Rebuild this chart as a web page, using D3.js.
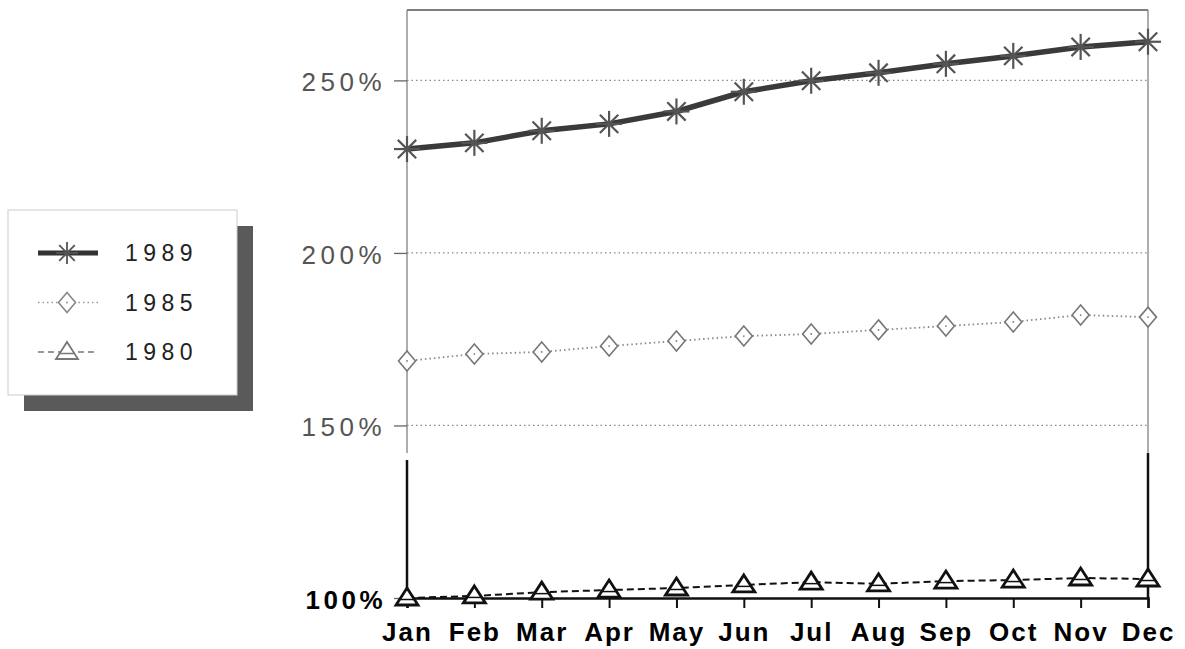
<!DOCTYPE html>
<html>
<head>
<meta charset="utf-8">
<script src="https://cdn.jsdelivr.net/npm/d3@7"></script>
<style>
  body { margin: 0; background: #fff; overflow: hidden; }
  svg { display: block; }
</style>
</head>
<body>
<div id="chart"></div>
<script>
// data
const months = ["Jan", "Feb", "Mar", "Apr", "May", "Jun", "Jul", "Aug", "Sep", "Oct", "Nov", "Dec"];
const s1989 = [230.1, 231.9, 235.4, 237.4, 241.0, 246.7, 249.9, 252.2, 254.8, 257.1, 259.7, 261.2];
const s1985 = [168.7, 170.7, 171.3, 173.0, 174.5, 175.9, 176.5, 177.7, 178.8, 180.0, 182.0, 181.4];
const s1980 = [100.0, 100.6, 101.7, 102.3, 102.9, 103.8, 104.6, 104.1, 104.9, 105.2, 105.8, 105.5];
const yTicks = [100, 150, 200, 250];
const seriesNames = ["1989", "1985", "1980"];

const width = 1185, height = 649;
const margin = { top: 10, right: 37, bottom: 51, left: 407 };
const innerWidth = width - margin.left - margin.right;
const innerHeight = height - margin.top - margin.bottom;
const font = 'Liberation Sans, Arial, Helvetica, sans-serif';

const svg = d3.select('#chart').append('svg')
  .attr('width', width)
  .attr('height', height);

const x = d3.scalePoint()
  .domain(months)
  .range([0, innerWidth]);

const y = d3.scaleLinear()
  .domain([100, 270.4])
  .range([innerHeight, 0]);

const g = svg.append('g')
  .attr('transform', `translate(${margin.left}, ${margin.top})`);

// frame: thin gray top / upper sides
g.append('line').attr('x1', 0).attr('x2', innerWidth).attr('y1', 0).attr('y2', 0)
  .attr('stroke', '#555').attr('stroke-width', 1.5);
g.append('line').attr('x1', 0).attr('x2', 0).attr('y1', 0).attr('y2', y(142))
  .attr('stroke', '#777').attr('stroke-width', 1.2);
g.append('line').attr('x1', innerWidth).attr('x2', innerWidth).attr('y1', 0).attr('y2', y(142))
  .attr('stroke', '#777').attr('stroke-width', 1.2);
// heavy lower sides
g.append('line').attr('x1', 0).attr('x2', 0).attr('y1', y(140)).attr('y2', innerHeight)
  .attr('stroke', '#111').attr('stroke-width', 2.5);
g.append('line').attr('x1', innerWidth).attr('x2', innerWidth).attr('y1', y(142)).attr('y2', innerHeight)
  .attr('stroke', '#111').attr('stroke-width', 2.5);

// grid lines
g.selectAll('.grid').data(yTicks.filter(d => d > 100))
  .enter().append('line')
  .attr('class', 'grid')
  .attr('x1', 0).attr('x2', innerWidth)
  .attr('y1', d => y(d)).attr('y2', d => y(d))
  .attr('stroke', '#888')
  .attr('stroke-width', 1.3)
  .attr('stroke-dasharray', '1.5,3');

// y axis
const yAxis = d3.axisLeft(y).tickValues(yTicks).tickFormat(d => d + '%').tickSize(13).tickPadding(8);
const yG = g.append('g').call(yAxis);
yG.select('.domain').remove();
yG.selectAll('.tick line').attr('stroke', '#666').attr('stroke-width', 1.3);
yG.selectAll('.tick text')
  .attr('font-family', font)
  .attr('font-size', 26)
  .attr('letter-spacing', 4.5)
  .attr('dy', '0.4em')
  .attr('fill', '#555');
yG.selectAll('.tick').filter(d => d === 100).select('text')
  .attr('fill', '#000').attr('font-weight', 'bold').attr('letter-spacing', 3.5);

// x axis
const xAxis = d3.axisBottom(x).tickSize(10);
const xG = g.append('g').attr('transform', `translate(0, ${innerHeight})`).call(xAxis);
xG.select('.domain').attr('stroke', '#111').attr('stroke-width', 2.5);
xG.selectAll('.tick line').attr('stroke', '#111').attr('stroke-width', 2);
xG.selectAll('.tick text')
  .attr('font-family', font)
  .attr('font-size', 26)
  .attr('font-weight', 'bold')
  .attr('letter-spacing', 2)
  .attr('y', 43)
  .attr('dy', 0)
  .attr('fill', '#000');

const line = d3.line().x((d, i) => x(months[i])).y(d => y(d));

// markers
function star(sel, size, color, w) {
  const r = size / 2;
  for (let k = 0; k < 4; k++) {
    const a = k * Math.PI / 4;
    sel.append('line')
      .attr('x1', -r * Math.cos(a)).attr('y1', -r * Math.sin(a))
      .attr('x2', r * Math.cos(a)).attr('y2', r * Math.sin(a))
      .attr('stroke', color).attr('stroke-width', w);
  }
}
function diamond(sel, color) {
  sel.append('path').attr('d', 'M0,-10L8.5,0L0,10L-8.5,0Z')
    .attr('fill', '#fff').attr('stroke', color).attr('stroke-width', 1.6);
  sel.append('circle').attr('r', 0.9).attr('fill', color);
}
function triangle(sel, color, w) {
  sel.append('path').attr('d', 'M0,-10L11,7L-11,7Z')
    .attr('fill', '#fff').attr('stroke', color).attr('stroke-width', w);
  sel.append('line').attr('x1', -7).attr('x2', 7).attr('y1', 1.5).attr('y2', 1.5)
    .attr('stroke', color).attr('stroke-width', 1.5);
}

// 1980
g.append('path').datum(s1980).attr('d', line)
  .attr('fill', 'none').attr('stroke', '#111').attr('stroke-width', 2).attr('stroke-dasharray', '7,4');
g.selectAll('.m1980').data(s1980).enter().append('g')
  .attr('transform', (d, i) => `translate(${x(months[i])}, ${y(d)})`)
  .each(function () { triangle(d3.select(this), '#111', 2.8); });

// 1985
g.append('path').datum(s1985).attr('d', line)
  .attr('fill', 'none').attr('stroke', '#888').attr('stroke-width', 1.8).attr('stroke-dasharray', '1.5,3');
g.selectAll('.m1985').data(s1985).enter().append('g')
  .attr('transform', (d, i) => `translate(${x(months[i])}, ${y(d)})`)
  .each(function () { diamond(d3.select(this), '#777'); });

// 1989
g.append('path').datum(s1989).attr('d', line)
  .attr('fill', 'none').attr('stroke', '#3a3a3a').attr('stroke-width', 5.5);
g.selectAll('.m1989').data(s1989).enter().append('g')
  .attr('transform', (d, i) => `translate(${x(months[i])}, ${y(d)})`)
  .each(function () { star(d3.select(this), 26, '#555', 2.2); });

// legend
const lg = svg.append('g').attr('transform', 'translate(8, 210)');
lg.append('rect').attr('x', 16).attr('y', 16).attr('width', 229).attr('height', 185).attr('fill', '#5a5a5a');
lg.append('rect').attr('x', 0).attr('y', 0).attr('width', 229).attr('height', 185)
  .attr('fill', '#fff').attr('stroke', '#ccc').attr('stroke-width', 1);

const legendRows = lg.selectAll('.row').data(seriesNames).enter().append('g')
  .attr('transform', (d, i) => `translate(0, ${43 + i * 49.5})`);

legendRows.each(function (d, i) {
  const r = d3.select(this);
  if (i === 0) {
    r.append('line').attr('x1', 30).attr('x2', 90).attr('stroke', '#333').attr('stroke-width', 5);
    const m = r.append('g').attr('transform', 'translate(59,0)');
    star(m, 22, '#555', 1.8);
  } else if (i === 1) {
    r.append('line').attr('x1', 30).attr('x2', 90).attr('stroke', '#999').attr('stroke-width', 1.6).attr('stroke-dasharray', '1.5,3');
    const m = r.append('g').attr('transform', 'translate(59,0)');
    diamond(m, '#888');
  } else {
    r.append('line').attr('x1', 30).attr('x2', 90).attr('stroke', '#777').attr('stroke-width', 1.6).attr('stroke-dasharray', '6,4');
    const m = r.append('g').attr('transform', 'translate(59,0)');
    triangle(m, '#777', 1.8);
  }
  r.append('text').attr('x', 117).attr('y', 8)
    .attr('font-family', font)
    .attr('font-size', 23)
    .attr('letter-spacing', 5.5)
    .attr('fill', '#222')
    .text(d);
});
</script>
</body>
</html>
